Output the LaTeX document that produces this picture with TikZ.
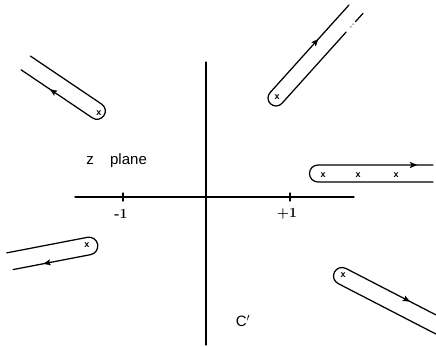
\documentclass[tikz,border=0pt]{standalone}
\usepackage{fontspec}
\newfontfamily\lab{Liberation Sans}
\usetikzlibrary{arrows.meta,decorations.markings}
\tikzset{
  curve/.style={line width=1.25pt, line cap=round},
  mk/.style={font=\lab\bfseries\fontsize{9}{9}\selectfont, inner sep=0pt},
  txt/.style={font=\lab\fontsize{15}{15}\selectfont, inner sep=0pt, anchor=base},
  num/.style={font=\bfseries\fontsize{14}{14}\selectfont, inner sep=0pt},
  midarrow/.style={postaction={decorate}, decoration={markings, mark=at position #1 with {\arrow{Stealth[length=7pt,width=6pt,inset=1.5pt]}}}},
  pics/hairpin/.style n args={4}{code={
    \draw[curve] (#2,#1) -- (0,#1) arc[start angle=90,end angle=270,radius=#1] -- (#3,-#1);
    \path[midarrow=#4] (0,#1) -- (#2,#1);
  }}
}
\begin{document}
\begin{tikzpicture}[x=1pt,y=1pt]
\useasboundingbox (0,0) rectangle (436,347);
% axes
\coordinate (hl) at (75,150);
\coordinate (hr) at (354,150);
\coordinate (vt) at (206,285);
\coordinate (vb) at (206,2);
\draw[curve] (hl) -- (hr);
\draw[curve] (vt) -- (vb);
\coordinate (tm) at (123,150);
\coordinate (tp) at (290,150);
\draw[curve] ([yshift=-4pt]tm) -- ([yshift=4pt]tm);
\draw[curve] ([yshift=-4pt]tp) -- ([yshift=4pt]tp);
\node[num] (lm) at (121,133) {-1};
\node[num] (lp) at (287,133) {+1};
% labels
\node[txt] (z) at (90,182) {z};
\node[txt] (pl) at (128.5,182) {plane};
\node[txt] (cp) at (243,20) {C$'$};
% top-left
\pic[rotate=146] at (97,236) {hairpin={8.3}{86}{86}{51pt}};
\node[mk] (x1) at (99,234) {x};
% top-right
\pic[rotate=48] at (276,249) {hairpin={8}{118}{96}{72pt}};
\begin{scope}[shift={(276,249)},rotate=48]
  \fill (103,-8) circle (0.7pt);
  \fill (106.5,-8) circle (0.7pt);
  \draw[curve] (110,-8) -- (121,-8);
\end{scope}
\node[mk] (x2) at (277,250) {x};
% right
\pic at (318,173.5) {hairpin={8.5}{115}{115}{99pt}};
\node[mk] (x3) at (323,172) {x};
\node[mk] (x4) at (358,172) {x};
\node[mk] (x5) at (396,172) {x};
% bottom-left
\pic[rotate=190.9] at (89,101) {hairpin={8.8}{79}{82}{48pt}};
\node[mk] (x6) at (87,102) {x};
% bottom-right
\pic[rotate=-27.3] at (342,71) {hairpin={8.5}{101}{110}{72pt}};
\node[mk] (x7) at (343,72) {x};
\end{tikzpicture}
\end{document}
